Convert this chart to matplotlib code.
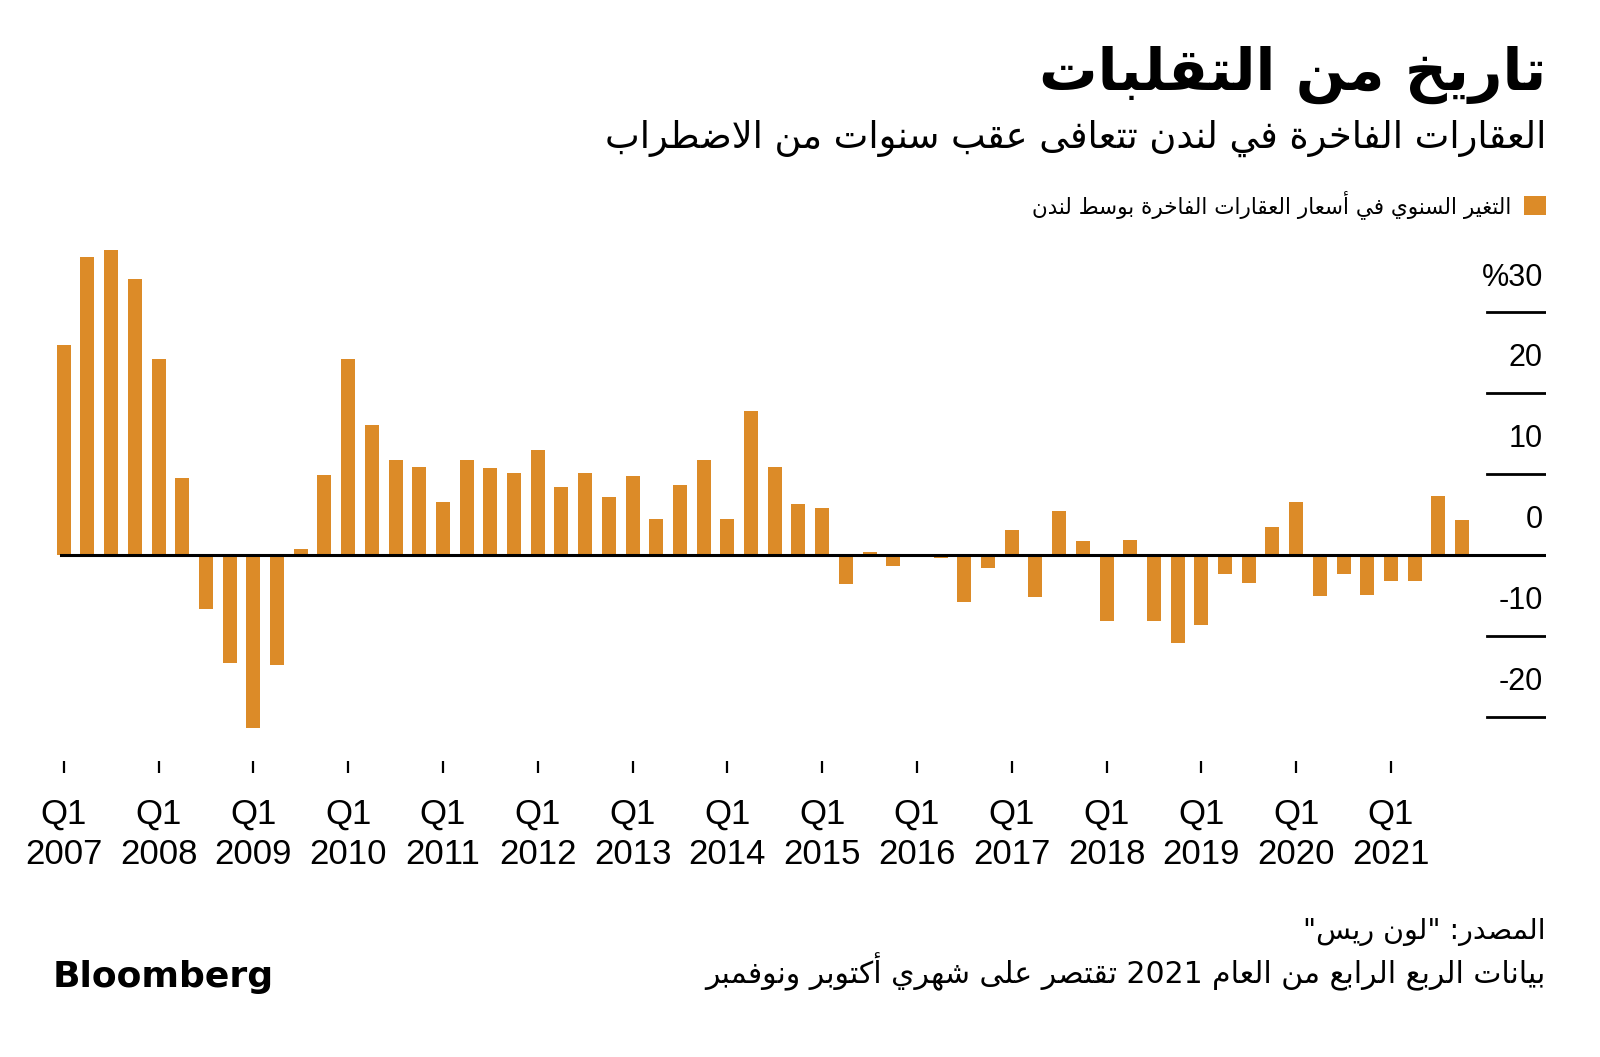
import re

import matplotlib.pyplot as plt
from matplotlib.transforms import blended_transform_factory

# year-on-year change in prime central London prices, Q1 2007 .. Q4 2021
years = list(range(2007, 2022))
yoy_change = [
    26.0, 36.9, 37.7, 34.1,    # 2007
    24.2, 9.5, -6.7, -13.3,    # 2008
    -21.4, -13.6, 0.7, 9.9,    # 2009
    24.2, 16.1, 11.8, 10.9,    # 2010
    6.6, 11.7, 10.8, 10.1,     # 2011
    13.0, 8.4, 10.1, 7.2,      # 2012
    9.8, 4.5, 8.6, 11.7,       # 2013
    4.5, 17.8, 10.9, 6.3,      # 2014
    5.8, -3.6, 0.4, -1.3,      # 2015
    0.0, -0.4, -5.8, -1.6,     # 2016
    3.1, -5.2, 5.5, 1.7,       # 2017
    -8.2, 1.9, -8.2, -10.9,    # 2018
    -8.7, -2.4, -3.5, 3.5,     # 2019
    6.6, -5.1, -2.3, -4.9,     # 2020
    -3.2, -3.2, 7.3, 4.3,      # 2021
]
y_ticks = [30, 20, 10, 0, -10, -20]
y_tick_labels = ['%30', '20', '10', '0', '-10', '-20']

title = 'تاريخ من التقلبات'
subtitle = 'العقارات الفاخرة في لندن تتعافى عقب سنوات من الاضطراب'
series_label = 'التغير السنوي في أسعار العقارات الفاخرة بوسط لندن'
source = 'المصدر: "لون ريس"'
note = 'بيانات الربع الرابع من العام 2021 تقتصر على شهري أكتوبر ونوفمبر'

ORANGE = '#DC8B28'
ARABIC_FONT = ['DejaVu Sans']
LATIN_FONT = ['Liberation Sans', 'DejaVu Sans']

# matplotlib does no arabic shaping, so pick the presentation forms by hand
# (isolated form code point, 'd' dual joining / 'r' right joining / 'n' none)
FORMS = {
    'ء': (0xFE80, 'n'), 'آ': (0xFE81, 'r'), 'أ': (0xFE83, 'r'), 'ؤ': (0xFE85, 'r'),
    'إ': (0xFE87, 'r'), 'ئ': (0xFE89, 'd'), 'ا': (0xFE8D, 'r'), 'ب': (0xFE8F, 'd'),
    'ة': (0xFE93, 'r'), 'ت': (0xFE95, 'd'), 'ث': (0xFE99, 'd'), 'ج': (0xFE9D, 'd'),
    'ح': (0xFEA1, 'd'), 'خ': (0xFEA5, 'd'), 'د': (0xFEA9, 'r'), 'ذ': (0xFEAB, 'r'),
    'ر': (0xFEAD, 'r'), 'ز': (0xFEAF, 'r'), 'س': (0xFEB1, 'd'), 'ش': (0xFEB5, 'd'),
    'ص': (0xFEB9, 'd'), 'ض': (0xFEBD, 'd'), 'ط': (0xFEC1, 'd'), 'ظ': (0xFEC5, 'd'),
    'ع': (0xFEC9, 'd'), 'غ': (0xFECD, 'd'), 'ف': (0xFED1, 'd'), 'ق': (0xFED5, 'd'),
    'ك': (0xFED9, 'd'), 'ل': (0xFEDD, 'd'), 'م': (0xFEE1, 'd'), 'ن': (0xFEE5, 'd'),
    'ه': (0xFEE9, 'd'), 'و': (0xFEED, 'r'), 'ى': (0xFEEF, 'r'), 'ي': (0xFEF1, 'd'),
}
LAM_ALEF = {'آ': 0xFEF5, 'أ': 0xFEF7, 'إ': 0xFEF9, 'ا': 0xFEFB}


def shape(text):
    units = []
    i = 0
    while i < len(text):
        if text[i] == 'ل' and i + 1 < len(text) and text[i + 1] in LAM_ALEF:
            units.append(('la', text[i + 1]))
            i += 2
        else:
            units.append(('c', text[i]))
            i += 1

    def joins_next(u):
        return u[0] == 'c' and u[1] in FORMS and FORMS[u[1]][1] == 'd'

    def joins_prev(u):
        return u[0] == 'la' or (u[1] in FORMS and FORMS[u[1]][1] in 'dr')

    out = []
    for k, u in enumerate(units):
        prev_ok = k > 0 and joins_next(units[k - 1]) and joins_prev(u)
        next_ok = k + 1 < len(units) and joins_next(u) and joins_prev(units[k + 1])
        if u[0] == 'la':
            out.append(chr(LAM_ALEF[u[1]] + (1 if prev_ok else 0)))
        elif u[1] in FORMS:
            base, kind = FORMS[u[1]]
            if kind == 'n':
                out.append(chr(base))
            elif prev_ok and next_ok:
                out.append(chr(base + 3))
            elif next_ok:
                out.append(chr(base + 2))
            elif prev_ok:
                out.append(chr(base + 1))
            else:
                out.append(chr(base))
        else:
            out.append(u[1])
    return ''.join(out)


def rtl(text):
    # reverse for display, but keep numbers reading left to right
    s = shape(text)[::-1]
    return re.sub(r'[0-9A-Za-z.%]+', lambda m: m.group(0)[::-1], s)


W, H = 1600, 1057
fig = plt.figure(figsize=(W / 100, H / 100), dpi=100)
fig.patch.set_facecolor('white')

# plot area: 40..1546 px wide, 230..773 px tall
ax = fig.add_axes([40 / W, 1 - 773 / H, 1506 / W, 543 / H])
ax.bar(range(len(yoy_change)), yoy_change, width=0.59, color=ORANGE,
       label=rtl(series_label), zorder=2)
ax.set_xlim(-1.0, 62.54)
ax.set_ylim(-26.95, 40.18)
for spine in ax.spines.values():
    spine.set_visible(False)
ax.set_yticks([])

ax.set_xticks(range(0, len(yoy_change), 4), [f'Q1\n{y}' for y in years])
ax.tick_params(axis='x', direction='in', length=8.6, width=1.6, color='black',
               pad=18, labelsize=25)
for lbl in ax.get_xticklabels():
    lbl.set_fontfamily(LATIN_FONT)
    lbl.set_linespacing(1.28)

trans = blended_transform_factory(ax.transAxes, ax.transData)
for v, lab in zip(y_ticks, y_tick_labels):
    if v == 0:
        ax.axhline(0, xmin=0.0138, xmax=1.0, color='black', lw=2.2, zorder=3)
    else:
        ax.axhline(v, xmin=0.9608, xmax=1.0, color='black', lw=2.0, zorder=3)
    ax.text(0.998, v + 4.3, lab, transform=trans, ha='right', va='center',
            fontsize=22, family=LATIN_FONT)

right = 1546 / W
fig.text(right, 1 - 90 / H, rtl(title), ha='right', va='baseline',
         fontsize=42, weight='bold', family=ARABIC_FONT)
fig.text(right, 1 - 148 / H, rtl(subtitle), ha='right', va='baseline',
         fontsize=26.5, family=ARABIC_FONT)

fig.legend(loc='upper right', bbox_to_anchor=(right, 1 - 190 / H), frameon=False,
           markerfirst=False, handlelength=1.0, handleheight=1.0, handletextpad=0.6,
           borderpad=0, borderaxespad=0, prop={'family': ARABIC_FONT, 'size': 15.5})

fig.text(right, 1 - 939 / H, rtl(source), ha='right', va='baseline',
         fontsize=20.5, family=ARABIC_FONT)
fig.text(right, 1 - 983 / H, rtl(note), ha='right', va='baseline',
         fontsize=21.5, family=ARABIC_FONT)
fig.text(53 / W, 1 - 987 / H, 'Bloomberg', ha='left', va='baseline',
         fontsize=26, weight='bold', family=['DejaVu Sans'])

fig.savefig('out.png', dpi=100, facecolor='white')
